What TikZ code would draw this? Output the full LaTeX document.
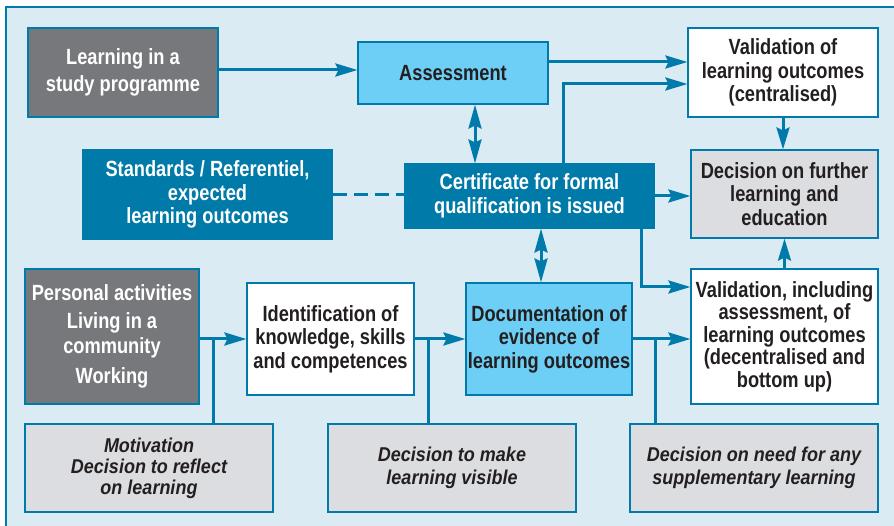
\documentclass[tikz,border=0pt]{standalone}
\usepackage{fontspec}
\setmainfont{Liberation Sans}[FakeStretch=0.83]
\newfontfamily\askfont{Liberation Sans}[FakeStretch=0.90]
\usetikzlibrary{arrows.meta,calc}
\definecolor{lineblue}{RGB}{0,122,170}
\definecolor{bgblue}{RGB}{218,235,244}
\definecolor{deepblue}{RGB}{0,122,168}
\definecolor{skyblue}{RGB}{109,207,246}
\definecolor{darkgrey}{RGB}{119,120,123}
\definecolor{palegrey}{RGB}{220,221,224}
\definecolor{ink}{RGB}{35,31,32}
\tikzset{
	box/.style={draw=lineblue, line width=1.2pt, align=center, inner sep=0pt, text=ink,
		font=\fontsize{22}{23.5}\selectfont\bfseries},
	greyb/.style={box, fill=darkgrey, text=white},
	blueb/.style={box, fill=deepblue, text=white},
	skyb/.style={box, fill=skyblue},
	whiteb/.style={box, fill=white},
	paleb/.style={box, fill=palegrey},
	askb/.style={box, fill=palegrey, font=\askfont\fontsize{20}{21}\selectfont\bfseries\itshape,
		minimum width=248pt, minimum height=88pt},
	link/.style={lineblue, line width=3pt, -{Stealth[length=22pt,width=13pt,inset=3pt]}},
	twoway/.style={lineblue, line width=3pt, {Stealth[length=24pt,width=13pt,inset=3pt]}-{Stealth[length=24pt,width=13pt,inset=3pt]}},
	plain/.style={lineblue, line width=3pt},
}

\begin{document}
\begin{tikzpicture}[x=1pt, y=-1pt]
		%%%%% START %%%%%
		
		\useasboundingbox (0, 0) rectangle (894, 526);
		\fill[bgblue] (6, 7) rectangle (894, 526);
		\draw[lineblue, line width=2.5pt] (6, 526) -- (6, 7) -- (894, 7);
		
		% top row
		\node[greyb, minimum width=190pt, minimum height=89pt] (learn) at (123, 72.5) {Learning in a\\[3pt] study programme};
		\node[skyb, minimum width=190pt, minimum height=62pt] (assess) at (453, 73) {Assessment};
		\node[whiteb, minimum width=190pt, minimum height=89pt] (valc) at (783, 72.5) {Validation of\\ learning outcomes\\ (centralised)};
		
		% middle row
		\node[blueb, minimum width=249pt, minimum height=89pt] (stand) at (207.5, 194.5) {Standards / Referentiel,\\ expected\\ learning outcomes};
		\node[blueb, minimum width=249pt, minimum height=64pt] (cert) at (529.5, 196) {Certificate for formal\\ qualification is issued};
		\node[paleb, minimum width=187pt, minimum height=88pt] (decf) at (784.5, 194) {Decision on further\\ learning and\\ education};
		
		% lower row
		\node[greyb, minimum width=174pt, minimum height=135pt, font=\fontsize{22}{25}\selectfont\bfseries] (pers) at (112, 336.5) {Personal activities\\[3pt] Living in a\\ community\\[5pt] Working};
		\node[whiteb, minimum width=167pt, minimum height=112pt] (ident) at (330.5, 339) {Identification of\\ knowledge, skills\\ and competences};
		\node[skyb, minimum width=166pt, minimum height=112pt] (docu) at (549, 339) {Documentation of\\ evidence of\\ learning outcomes};
		\node[whiteb, minimum width=187pt, minimum height=135pt, font=\fontsize{22}{22.5}\selectfont\bfseries] (vali) at (784.5, 336.5) {Validation, including\\ assessment, of\\ learning outcomes\\ (decentralised and\\ bottom up)};
		
		% decisions
		\node[askb] (motiv) at (149, 468) {Motivation\\ Decision to reflect\\ on learning};
		\node[askb] (visib) at (452, 468) {Decision to make\\[2pt] learning visible};
		\node[askb] (suppl) at (754, 468) {Decision on need for any\\[2pt] supplementary learning};
		
		% connectors
		\draw[link] ([yshift=2.5]learn.east) -- ([yshift=2.5]learn.east -| assess.west);
		\draw[link] ([yshift=11]assess.east) -- ([yshift=11]assess.east -| valc.west);
		\draw[link] ([xshift=33.5]cert.north) |- ([yshift=-11.5]valc.west);
		\draw[twoway] ([xshift=22]assess.south) -- ([xshift=22]assess.south |- cert.north);
		\draw[link] (cert.east) -- (cert.east -| decf.west);
		\draw[link] ([xshift=111.5]cert.south) |- ([yshift=49.5]vali.west);
		\draw[twoway] ([xshift=-8]docu.north |- cert.south) -- ([xshift=-8]docu.north);
		\draw[link] (valc.south) -- (valc.south |- decf.north);
		\draw[link] (vali.north) -- (vali.north |- decf.south);
		\draw[plain, dash pattern=on 14pt off 7pt] (stand.east) -- (stand.east -| cert.west);
		
		\coordinate (fork1) at ([xshift=14]ident.west -| pers.east);
		\coordinate (fork2) at ([xshift=14]ident.east);
		\coordinate (fork3) at ([xshift=23]docu.east);
		\draw[link] (ident.west -| pers.east) -- (ident.west);
		\draw[link] (ident.east) -- (docu.west);
		\draw[link] (docu.east) -- (docu.east -| vali.west);
		\draw[plain] (fork1) -- (fork1 |- motiv.north);
		\draw[plain] (fork2) -- (fork2 |- visib.north);
		\draw[plain] (fork3) -- (fork3 |- suppl.north);
		
		%%%%% END %%%%%
	\end{tikzpicture}
\end{document}
